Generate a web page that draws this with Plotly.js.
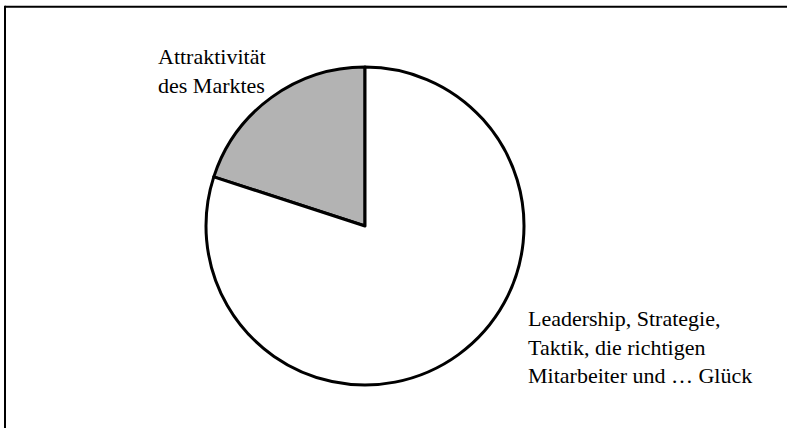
<!DOCTYPE html>
<html>
<head>
<meta charset="utf-8">
<script src="https://cdn.plot.ly/plotly-3.0.1.min.js"></script>
<style>html,body{margin:0;padding:0;background:#fff;}#chart{width:787px;height:428px;}</style>
</head>
<body>
<div id="chart"></div>
<script>
const categories = ["Attraktivität<br>des Marktes", "Leadership, Strategie,<br>Taktik, die richtigen<br>Mitarbeiter und … Glück"];
const values = [20, 80];
const colors = ["#b3b3b3", "#ffffff"];

const W = 787, H = 428;
const cx = 365, cy = 226, r = 159;
const FONT = "Liberation Serif, DejaVu Serif Condensed, DejaVu Serif";

const trace = {
  type: "pie",
  labels: categories,
  values: values,
  sort: false,
  direction: "clockwise",
  rotation: -72,
  textinfo: "none",
  hoverinfo: "label+percent",
  showlegend: false,
  marker: {colors: colors, line: {color: "#000", width: 3}},
  domain: {x: [(cx - r) / W, (cx + r) / W], y: [(H - cy - r) / H, (H - cy + r) / H]}
};

const labelPos = [
  {x: 156, y: 71},
  {x: 526, y: 347}
];

const layout = {
  width: W, height: H,
  margin: {l: 0, r: 0, t: 0, b: 0},
  paper_bgcolor: "#fff",
  plot_bgcolor: "#fff",
  font: {family: FONT, color: "#000", size: 22},
  annotations: categories.map((c, i) => ({
    xref: "paper", yref: "paper",
    x: labelPos[i].x / W, y: 1 - labelPos[i].y / H,
    xanchor: "left", yanchor: "middle", align: "left",
    showarrow: false, text: c,
    font: {family: FONT, size: 22, color: "#000"}
  })),
  shapes: [
    {type: "line", xref: "paper", yref: "paper", x0: 5 / W, x1: 1.01, y0: 1 - 6.7 / H, y1: 1 - 6.7 / H, line: {color: "#000", width: 2}},
    {type: "line", xref: "paper", yref: "paper", x0: 5 / W, x1: 5 / W, y0: -0.01, y1: 1 - 5.7 / H, line: {color: "#000", width: 2}}
  ]
};

Plotly.newPlot("chart", [trace], layout, {displayModeBar: false, staticPlot: true});
</script>
</body>
</html>
